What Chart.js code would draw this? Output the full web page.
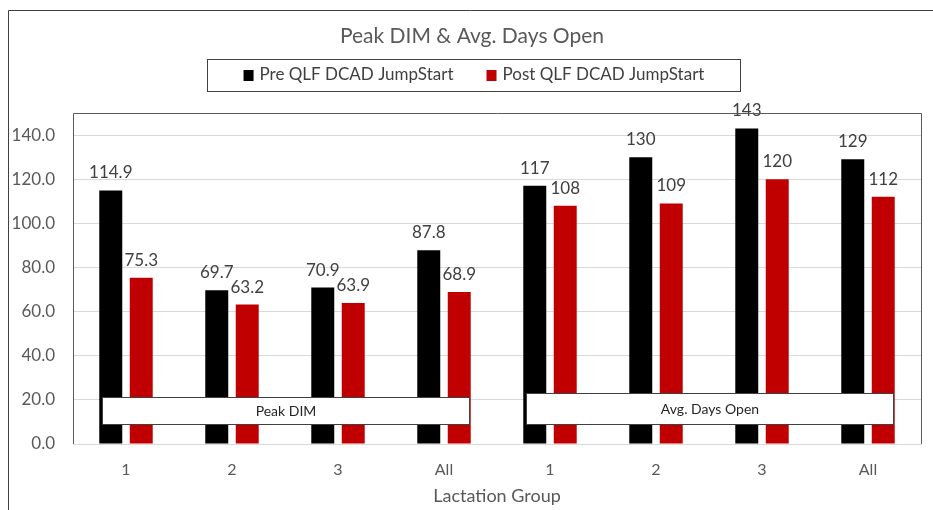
<!DOCTYPE html>
<html>
<head>
<meta charset="utf-8">
<script src="https://cdn.jsdelivr.net/npm/chart.js@4.4.1/dist/chart.umd.min.js"></script>
<style>
  html, body { margin: 0; padding: 0; background: #fff; }
</style>
</head>
<body>
<canvas id="grafico" width="933" height="510"></canvas>
<script>
// dados do grafico
const categorias = ['1', '2', '3', 'All', '1', '2', '3', 'All'];
const preQLF = [114.9, 69.7, 70.9, 87.8, 117, 130, 143, 129];
const postQLF = [75.3, 63.2, 63.9, 68.9, 108, 109, 120, 112];
const casasDecimais = [1, 1, 1, 1, 0, 0, 0, 0];
const ticksY = [0, 20, 40, 60, 80, 100, 120, 140];
const grupos = ['Peak DIM', 'Avg. Days Open'];
const grupoInicio = [0, 4];
const grupoFim = [3, 7];

const FONTE = 'Lato, "Noto Sans", sans-serif';
const CINZA = '#595959';

// desenhos extras: moldura, titulo, legenda, rotulos, caixas dos grupos
const extras = {
    id: 'extras',
    beforeDraw(chart) {
        const ctx = chart.ctx;
        ctx.save();
        ctx.fillStyle = '#fff';
        ctx.fillRect(0, 0, chart.width, chart.height);
        ctx.strokeStyle = '#404040';
        ctx.lineWidth = 1;
        ctx.beginPath();
        ctx.moveTo(8.5, chart.height);
        ctx.lineTo(8.5, 10.5);
        ctx.lineTo(chart.width, 10.5);
        ctx.stroke();
        ctx.restore();
    },
    afterDatasetsDraw(chart) {
        const ctx = chart.ctx;
        ctx.save();
        // rotulos de valor acima das barras
        ctx.font = '17px ' + FONTE;
        ctx.fillStyle = '#404040';
        ctx.textAlign = 'center';
        ctx.textBaseline = 'alphabetic';
        chart.data.datasets.forEach((ds, i) => {
            chart.getDatasetMeta(i).data.forEach((bar, j) => {
                ctx.fillText(ds.data[j].toFixed(casasDecimais[j]), bar.x, bar.y - 12);
            });
        });

        // caixas com o nome de cada grupo
        const x = chart.scales.x;
        const base = chart.chartArea.bottom;
        const alturas = [47, 51];
        ctx.font = '14px ' + FONTE;
        ctx.textBaseline = 'middle';
        grupos.forEach((nome, g) => {
            const x0 = Math.round(x.getPixelForValue(grupoInicio[g]) - 24) + 0.5;
            const x1 = Math.round(x.getPixelForValue(grupoFim[g]) + 25) + 0.5;
            const y0 = base - alturas[g] + 0.5;
            const y1 = base - 20 + 0.5;
            ctx.fillStyle = '#fff';
            ctx.fillRect(x0, y0, x1 - x0, y1 - y0);
            ctx.strokeStyle = '#404040';
            ctx.lineWidth = 1;
            ctx.strokeRect(x0, y0, x1 - x0, y1 - y0);
            ctx.fillStyle = '#262626';
            ctx.fillText(nome, (x0 + x1) / 2, (y0 + y1) / 2);
        });
        ctx.restore();
    },
    afterDraw(chart) {
        const ctx = chart.ctx;
        const area = chart.chartArea;
        ctx.save();

        // borda da area do grafico
        ctx.strokeStyle = CINZA;
        ctx.lineWidth = 1;
        ctx.beginPath();
        ctx.moveTo(area.left + 0.5, area.bottom);
        ctx.lineTo(area.left + 0.5, area.top + 0.5);
        ctx.lineTo(area.right + 0.5, area.top + 0.5);
        ctx.lineTo(area.right + 0.5, area.bottom);
        ctx.stroke();

        // titulo
        ctx.font = '21px ' + FONTE;
        ctx.fillStyle = CINZA;
        ctx.textAlign = 'center';
        ctx.textBaseline = 'middle';
        ctx.fillText('Peak DIM & Avg. Days Open', 472, 36);

        // legenda com borda
        ctx.strokeStyle = '#404040';
        ctx.strokeRect(207.5, 59.5, 533, 32);
        ctx.font = '17px ' + FONTE;
        ctx.textAlign = 'left';
        const ds = chart.data.datasets;
        const w = ds.map(d => ctx.measureText(d.label).width);
        const total = 10 + 6 + w[0] + 33 + 10 + 6 + w[1];
        let px = 474 - total / 2;
        ds.forEach((d, i) => {
            ctx.fillStyle = d.backgroundColor;
            ctx.fillRect(px, 70, 10, 11);
            ctx.fillStyle = '#404040';
            ctx.fillText(d.label, px + 16, 75);
            px += 16 + w[i] + 33;
        });
        ctx.restore();
    }
};

const config = {
    type: 'bar',
    data: {
        labels: categorias,
        datasets: [
            { label: 'Pre QLF DCAD JumpStart', data: preQLF, backgroundColor: '#000000' },
            { label: 'Post QLF DCAD JumpStart', data: postQLF, backgroundColor: '#C00000' }
        ]
    },
    options: {
        responsive: false,
        animation: false,
        categoryPercentage: 0.575,
        barPercentage: 0.754,
        layout: { padding: { top: 113, right: 12, left: 0, bottom: 0 } },
        plugins: {
            legend: { display: false },
            title: { display: false },
            tooltip: { enabled: false }
        },
        scales: {
            x: {
                grid: { display: false, drawTicks: false },
                border: { display: true, color: '#d9d9d9' },
                ticks: { color: CINZA, font: { family: FONTE, size: 16 }, padding: 16 },
                title: {
                    display: true,
                    text: 'Lactation Group',
                    color: CINZA,
                    font: { family: FONTE, size: 18 },
                    padding: { top: 0, bottom: 3 }
                },
                afterFit(scale) { scale.height = 66; }
            },
            y: {
                min: 0,
                max: 150,
                grid: { color: '#d9d9d9', drawTicks: false },
                border: { display: false },
                ticks: {
                    color: CINZA,
                    font: { family: FONTE, size: 17 },
                    padding: 18,
                    callback: v => v.toFixed(1)
                },
                afterBuildTicks(scale) { scale.ticks = ticksY.map(v => ({ value: v })); },
                afterFit(scale) { scale.width = 73; }
            }
        }
    },
    plugins: [extras]
};

document.addEventListener('DOMContentLoaded', function() {
    const ctx = document.getElementById('grafico').getContext('2d');
    new Chart(ctx, config);
});
</script>
</body>
</html>
